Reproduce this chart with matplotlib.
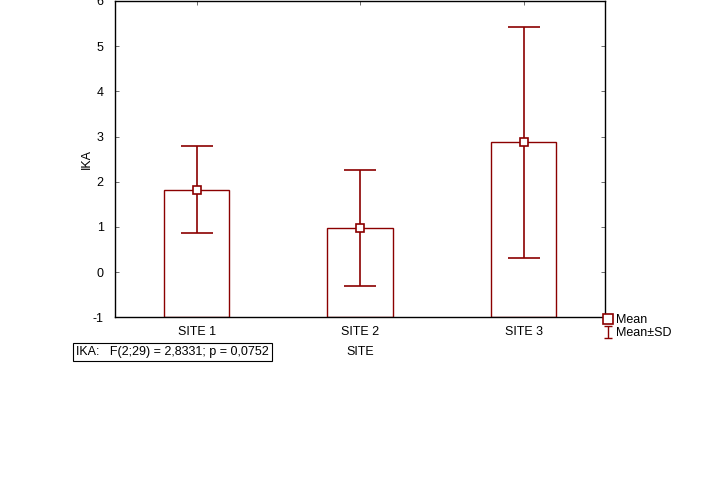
import matplotlib.pyplot as plt
from matplotlib.lines import Line2D
import numpy as np

plt.rcParams['font.family'] = ['Liberation Sans', 'DejaVu Sans']
plt.rcParams['font.size'] = 9
plt.rcParams['axes.unicode_minus'] = False

# data
sites = ['SITE 1', 'SITE 2', 'SITE 3']
means = [1.82, 0.97, 2.87]
sds = [0.96, 1.28, 2.56]
stat_text = 'IKA:   F(2;29) = 2,8331; p = 0,0752'

red = '#8b0000'

fig = plt.figure(figsize=(7.18, 4.88), dpi=100)
ax = fig.add_axes([0.160, 0.350, 0.683, 0.648])

x = np.arange(len(sites)) + 0.5
bottom = -1
ax.bar(x, np.array(means) - bottom, bottom=bottom, width=0.4,
       facecolor='white', edgecolor=red, linewidth=1.0, zorder=2)
ax.errorbar(x, means, yerr=sds, fmt='none', ecolor=red, elinewidth=1.2,
            capsize=11.5, capthick=1.2, zorder=3)
ax.plot(x, means, ls='none', marker='s', markersize=5.5, mfc='white',
        mec=red, mew=1.2, zorder=4)

ax.set_xlim(0, 3)
ax.set_ylim(-1, 6)
ax.set_xticks(x)
ax.set_xticklabels(sites)
ax.set_yticks(range(-1, 7))
ax.tick_params(direction='in', length=3, width=0.6, top=True, right=True,
               colors='#555555', labelcolor='black', labelsize=9)
ax.tick_params(axis='x', pad=6)
ax.tick_params(axis='y', pad=8)
for s in ax.spines.values():
    s.set_linewidth(1.0)
    s.set_color('black')

ax.set_xlabel('SITE', fontsize=9, labelpad=6)
ax.set_ylabel('IKA', fontsize=9, labelpad=0)

# legend to the right of the bottom corner (dummy errorbar off-screen for the handle)
h_mean = Line2D([], [], ls='none', marker='s', markersize=7, mfc='white',
                mec=red, mew=1.2)
h_sd = ax.errorbar([-10], [0], yerr=[1], fmt='none', ecolor=red, capsize=3,
                   elinewidth=1.0, capthick=1.0)
ax.legend([h_mean, h_sd], ['Mean', 'Mean±SD'], loc='upper left',
          bbox_to_anchor=(0.997, 0.01), frameon=False, fontsize=9,
          handlelength=0.6, handletextpad=0.4, labelspacing=0.1,
          borderpad=0, borderaxespad=0)

fig.text(76 / 718, 1 - 352 / 488, stat_text, fontsize=9, va='center',
         ha='left',
         bbox=dict(boxstyle='square,pad=0.25', facecolor='white',
                   edgecolor='black', linewidth=0.8))

fig.savefig('out.png', dpi=100)
